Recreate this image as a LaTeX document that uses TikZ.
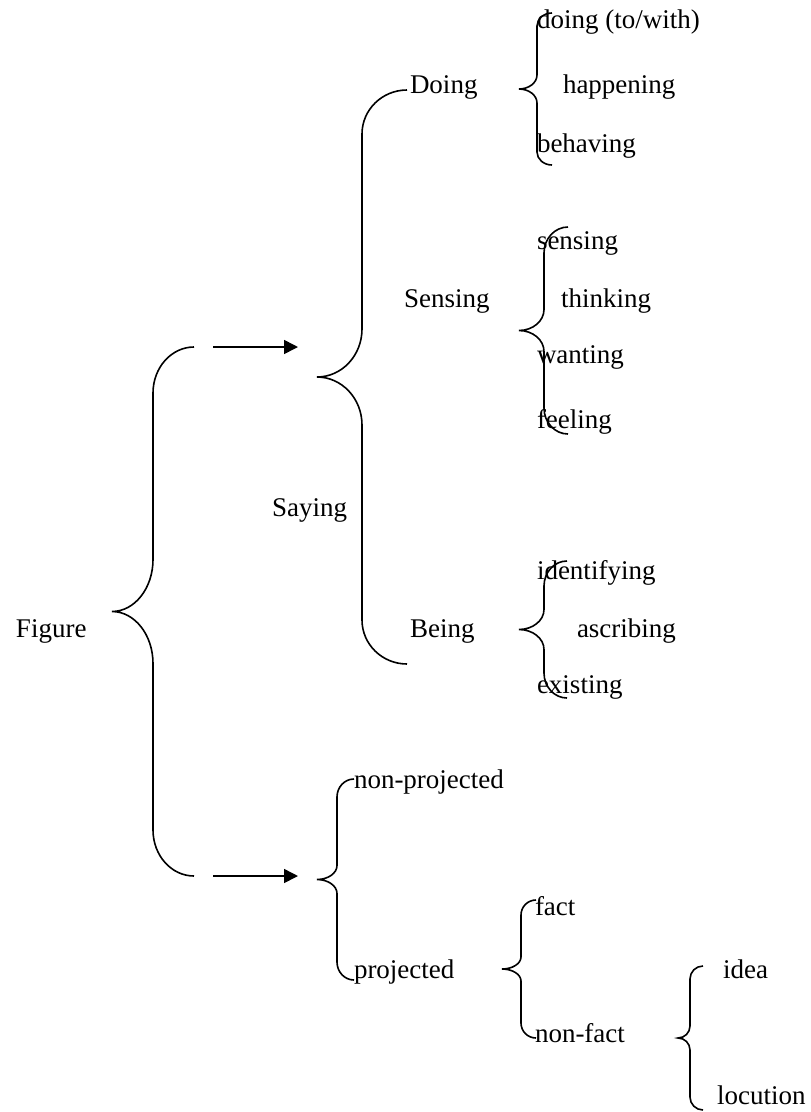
\documentclass[tikz,border=0pt]{standalone}
\usepackage{fontspec}
\setmainfont{Liberation Serif}
\usetikzlibrary{arrows.meta}

% Curly brace opening to the right:
% #1 end x, #2 stem x, #3 tip x, #4 top y, #5 bottom y,
% #6 vertical radius of the end hooks, #7 vertical radius at the tip
\newcommand\curlybrace[7]{%
  \pgfmathsetmacro\bxe{#1}\pgfmathsetmacro\bxv{#2}\pgfmathsetmacro\bxt{#3}%
  \pgfmathsetmacro\byt{#4}\pgfmathsetmacro\byb{#5}%
  \pgfmathsetmacro\bym{(#4+#5)/2}%
  \pgfmathsetmacro\bre{#6}\pgfmathsetmacro\brt{#7}%
  \pgfmathsetmacro\bca{\bxe-0.552*(\bxe-\bxv)}%
  \pgfmathsetmacro\bcb{\bxt+0.552*(\bxv-\bxt)}%
  \draw[brace]
    (\bxe,\byt) .. controls (\bca,\byt) and (\bxv,{\byt+0.448*\bre}) .. (\bxv,{\byt+\bre})
    -- (\bxv,{\bym-\brt}) .. controls (\bxv,{\bym-0.448*\brt}) and (\bcb,\bym) .. (\bxt,\bym)
    .. controls (\bcb,\bym) and (\bxv,{\bym+0.448*\brt}) .. (\bxv,{\bym+\brt})
    -- (\bxv,{\byb-\bre}) .. controls (\bxv,{\byb-0.448*\bre}) and (\bca,\byb) .. (\bxe,\byb);
}

\begin{document}
\begin{tikzpicture}[x=1pt,y=-1pt,
  lbl/.style={anchor=base west,inner sep=0pt,outer sep=0pt,
    font=\fontsize{27}{32}\selectfont},
  brace/.style={line width=1.6pt,line cap=butt},
  flow/.style={line width=1.6pt,-{Triangle[length=14pt,width=14pt]}}]

\fill[white] (0,0) rectangle (811,1112);
\useasboundingbox (0,0) rectangle (811,1112);

% labels
\node[lbl] (figure) at (16,637) {Figure};
\node[lbl] (saying) at (272,516) {Saying};
\node[lbl] (doing) at (410,93) {Doing};
\node[lbl] (sensingc) at (404,307) {Sensing};
\node[lbl] (being) at (410,637) {Being};

\node[lbl] (doingtw) at (537,28) {doing (to/with)};
\node[lbl] (happening) at (563,93) {happening};
\node[lbl] (behaving) at (537,152) {behaving};

\node[lbl] (sensing) at (537,249) {sensing};
\node[lbl] (thinking) at (561,307) {thinking};
\node[lbl] (wanting) at (537,363) {wanting};
\node[lbl] (feeling) at (537,428) {feeling};

\node[lbl] (identifying) at (537,579) {identifying};
\node[lbl] (ascribing) at (577,637) {ascribing};
\node[lbl] (existing) at (537,693) {existing};

\node[lbl] (nonproj) at (354,788) {non-projected};
\node[lbl] (proj) at (354,978) {projected};
\node[lbl] (fact) at (535,915) {fact};
\node[lbl] (nonfact) at (535,1042) {non-fact};
\node[lbl] (idea) at (723,978) {idea};
\node[lbl] (locution) at (717,1104) {locution};

% braces
\curlybrace{194}{153}{112}{347}{876}{46}{52}
\curlybrace{407}{362}{317}{90}{664}{44}{48}
\curlybrace{552}{537}{519}{13}{165}{13}{14}
\curlybrace{568}{544}{519}{227}{434}{26}{21}
\curlybrace{567}{544}{519}{561}{698}{25}{20}
\curlybrace{354}{337}{317}{779}{980}{18}{14}
\curlybrace{536}{521}{502}{900}{1038}{15}{12}
\curlybrace{703}{690}{678}{966}{1110}{13}{12}

% arrows
\coordinate (a1s) at (213,347);
\coordinate (a1e) at (298,347);
\coordinate (a2s) at (213,876);
\coordinate (a2e) at (298,876);
\draw[flow] (a1s) -- (a1e);
\draw[flow] (a2s) -- (a2e);
\end{tikzpicture}
\end{document}
